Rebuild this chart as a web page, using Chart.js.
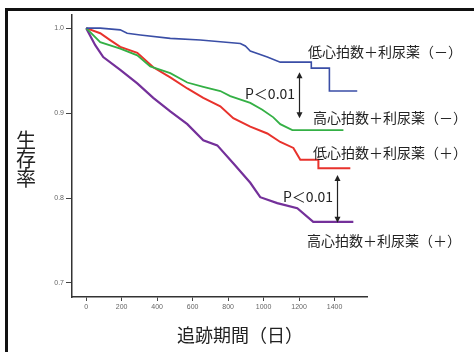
<!DOCTYPE html>
<html>
<head>
<meta charset="utf-8">
<script src="https://cdn.jsdelivr.net/npm/chart.js@4/dist/chart.umd.min.js"></script>
<style>
  html, body { margin: 0; padding: 0; background: #fff; }
  #wrap { width: 474px; height: 352px; position: relative; }
</style>
</head>
<body>
<div id="wrap"><canvas id="c" width="474" height="352"></canvas></div>
<script>
// ---- data (days, survival) ----
const seriesNames = ["低心拍数＋利尿薬（－）", "高心拍数＋利尿薬（－）", "低心拍数＋利尿薬（＋）", "高心拍数＋利尿薬（＋）"];
const lowHR_noDiur_x = [0, 79, 192, 231, 305, 474, 643, 756, 869, 897, 925, 981, 1021, 1094, 1269, 1269, 1371, 1371, 1528];
const lowHR_noDiur_y = [1.0, 1.0, 0.998, 0.994, 0.992, 0.988, 0.986, 0.984, 0.982, 0.979, 0.973, 0.969, 0.966, 0.960, 0.960, 0.953, 0.953, 0.926, 0.926];
const highHR_noDiur_x = [0, 79, 192, 288, 361, 474, 570, 660, 756, 812, 925, 993, 1055, 1094, 1162, 1450];
const highHR_noDiur_y = [1.0, 0.9835, 0.976, 0.968, 0.955, 0.947, 0.936, 0.931, 0.926, 0.920, 0.912, 0.904, 0.895, 0.887, 0.880, 0.880];
const lowHR_diur_x = [0, 79, 135, 192, 288, 378, 474, 570, 660, 756, 829, 925, 1021, 1094, 1168, 1207, 1309, 1309, 1489];
const lowHR_diur_y = [1.0, 0.994, 0.986, 0.978, 0.971, 0.954, 0.942, 0.929, 0.918, 0.908, 0.894, 0.884, 0.876, 0.866, 0.859, 0.845, 0.845, 0.835, 0.835];
const highHR_diur_x = [0, 51, 96, 192, 288, 378, 474, 570, 660, 739, 829, 925, 981, 1077, 1190, 1280, 1506];
const highHR_diur_y = [1.0, 0.980, 0.966, 0.951, 0.935, 0.918, 0.902, 0.887, 0.868, 0.862, 0.841, 0.818, 0.801, 0.794, 0.788, 0.772, 0.772];
const xTicks = [0, 200, 400, 600, 800, 1000, 1200, 1400];
const xTickLabels = ["0", "200", "400", "600", "800", "1000", "1200", "1400"];
const yTicks = [0.7, 0.8, 0.9, 1.0];
const yTickLabels = ["0.7", "0.8", "0.9", "1.0"];
const yTitle = "生存率";
const xTitle = "追跡期間（日）";
const pLabel = "P＜0.01";

function pts(xs, ys) { return xs.map((x, i) => ({ x: x, y: ys[i] })); }

const JP = '"Noto Sans CJK JP", "Noto Sans", sans-serif';

const overlay = {
  id: 'overlay',
  beforeDraw(chart) {
    const ctx = chart.ctx;
    ctx.save();
    ctx.fillStyle = '#fff';
    ctx.fillRect(0, 0, chart.width, chart.height);
    ctx.restore();
  },
  afterDraw(chart) {
    const ctx = chart.ctx;
    const xs = chart.scales.x, ys = chart.scales.y;
    ctx.save();
    // frame
    ctx.strokeStyle = '#111';
    ctx.lineWidth = 3;
    ctx.beginPath();
    ctx.moveTo(6.5, 352); ctx.lineTo(6.5, 9.5); ctx.lineTo(474, 9.5);
    ctx.stroke();

    // y title stacked
    ctx.fillStyle = '#222';
    ctx.font = '20px ' + JP;
    ctx.textAlign = 'center';
    ctx.textBaseline = 'middle';
    const chars = Array.from(yTitle);
    chars.forEach((c, i) => ctx.fillText(c, 26, 140 + i * 19));
    // x title
    ctx.font = '18px ' + JP;
    ctx.fillText(xTitle, 240, 335);

    // series labels
    ctx.font = '14px ' + JP;
    ctx.textAlign = 'left';
    ctx.fillStyle = '#222';
    ctx.fillText(seriesNames[0], 308, 52);
    ctx.fillText(seriesNames[1], 313, 118);
    ctx.fillText(seriesNames[2], 313, 153);
    ctx.fillText(seriesNames[3], 307, 241);
    ctx.fillText(pLabel, 245, 94);
    ctx.fillText(pLabel, 283, 197);

    // arrows
    function arrow(day, s1, s2) {
      const x = Math.round(xs.getPixelForValue(day)) + 0.5;
      const y1 = ys.getPixelForValue(s1), y2 = ys.getPixelForValue(s2);
      ctx.strokeStyle = '#222';
      ctx.fillStyle = '#222';
      ctx.lineWidth = 1.2;
      ctx.beginPath(); ctx.moveTo(x, y1 + 4); ctx.lineTo(x, y2 - 4); ctx.stroke();
      ctx.beginPath(); ctx.moveTo(x, y1); ctx.lineTo(x - 3, y1 + 6); ctx.lineTo(x + 3, y1 + 6); ctx.closePath(); ctx.fill();
      ctx.beginPath(); ctx.moveTo(x, y2); ctx.lineTo(x - 3, y2 - 6); ctx.lineTo(x + 3, y2 - 6); ctx.closePath(); ctx.fill();
    }
    arrow(1201, 0.948, 0.894);
    arrow(1416, 0.827, 0.771);
    ctx.restore();
  }
};

const ds = (label, data, color, w) => ({
  label, data, borderColor: color, backgroundColor: color, borderWidth: w,
  pointRadius: 0, tension: 0, fill: false
});

new Chart(document.getElementById('c'), {
  type: 'line',
  data: {
    datasets: [
      ds(seriesNames[0], pts(lowHR_noDiur_x, lowHR_noDiur_y), '#3a4ea6', 1.6),
      ds(seriesNames[1], pts(highHR_noDiur_x, highHR_noDiur_y), '#34b045', 1.8),
      ds(seriesNames[2], pts(lowHR_diur_x, lowHR_diur_y), '#e8322c', 2),
      ds(seriesNames[3], pts(highHR_diur_x, highHR_diur_y), '#74309a', 2.2)
    ]
  },
  options: {
    responsive: false,
    animation: false,
    layout: { padding: { left: 0, right: 107, top: 15, bottom: 0 } },
    plugins: { legend: { display: false }, tooltip: { enabled: false } },
    scales: {
      x: {
        type: 'linear', min: -80, max: 1583,
        afterBuildTicks: s => { s.ticks = xTicks.map(v => ({ value: v })); },
        afterFit: s => { s.height = 55; },
        grid: { drawOnChartArea: false, drawTicks: true, tickLength: 4, color: '#444', lineWidth: 1 },
        border: { display: true, color: '#333', width: 1.5 },
        ticks: {
          color: '#666', font: { size: 7, family: 'Arial, "Liberation Sans", sans-serif' }, padding: 2, maxRotation: 0, autoSkip: false,
          callback: (v) => { const i = xTicks.indexOf(v); return i >= 0 ? xTickLabels[i] : ''; }
        }
      },
      y: {
        type: 'linear', min: 0.6835, max: 1.0155,
        afterBuildTicks: s => { s.ticks = yTicks.map(v => ({ value: v })); },
        afterFit: s => { s.width = 72; },
        grid: { drawOnChartArea: false, drawTicks: true, tickLength: 6, color: '#444', lineWidth: 1 },
        border: { display: true, color: '#333', width: 1.5 },
        ticks: {
          color: '#666', font: { size: 7, family: 'Arial, "Liberation Sans", sans-serif' }, padding: 2, autoSkip: false,
          callback: (v) => { const i = yTicks.indexOf(Math.round(v * 10) / 10); return i >= 0 ? yTickLabels[i] : ''; }
        }
      }
    }
  },
  plugins: [overlay]
});
</script>
</body>
</html>
